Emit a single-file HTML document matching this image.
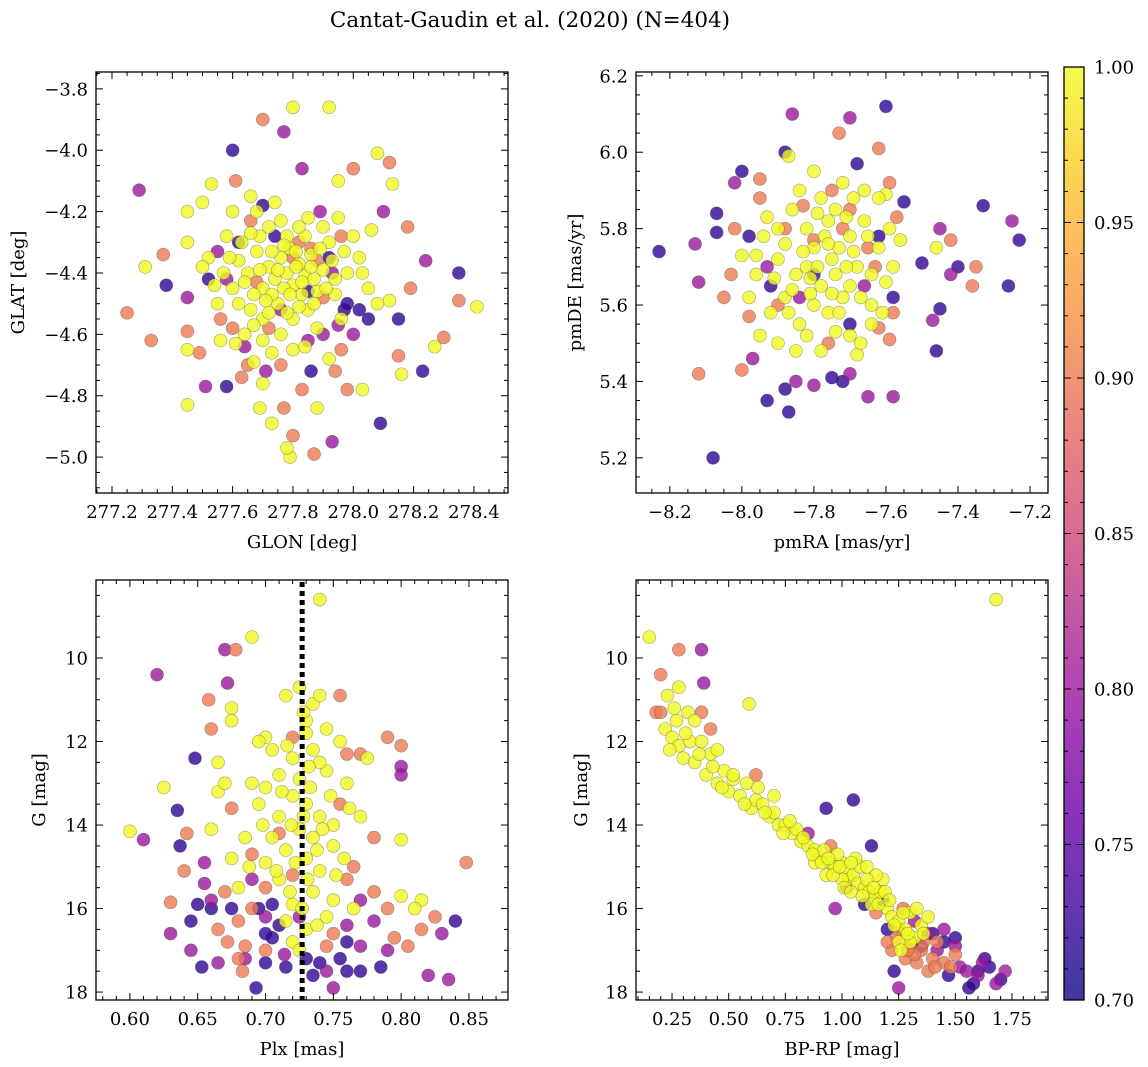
<!DOCTYPE html>
<html><head><meta charset="utf-8">
<style>
body{margin:0;background:#fff;}
svg{display:block;font-family:"DejaVu Serif","Liberation Serif",serif;}
</style></head>
<body>
<svg id="fig" width="1148" height="1067" viewBox="0 0 1148 1067" xmlns="http://www.w3.org/2000/svg">
<defs>
<linearGradient id="plasma" x1="0" y1="1" x2="0" y2="0">
<stop offset="0" stop-color="#0d0887"/><stop offset="0.1" stop-color="#41049d"/><stop offset="0.2" stop-color="#6a00a8"/><stop offset="0.3" stop-color="#8f0da4"/><stop offset="0.4" stop-color="#b12a90"/><stop offset="0.5" stop-color="#cc4778"/><stop offset="0.6" stop-color="#e16462"/><stop offset="0.7" stop-color="#f2844b"/><stop offset="0.8" stop-color="#fca636"/><stop offset="0.9" stop-color="#fcce25"/><stop offset="1" stop-color="#f0f921"/>
</linearGradient>
</defs>
<text x="530" y="27" font-size="21.5" text-anchor="middle">Cantat-Gaudin et al. (2020) (N=404)</text>
</svg>
<script>
const Y=1.0,S=0.9,P=0.8,D=0.72;
const glonGlat=[[277.29,-4.13,P],[277.25,-4.53,S],[277.33,-4.62,S],[277.31,-4.38,Y],[277.38,-4.44,D],[277.37,-4.34,S],[277.45,-4.20,Y],[277.45,-4.30,Y],[277.45,-4.48,P],[277.45,-4.59,S],[277.45,-4.65,Y],[277.45,-4.83,Y],[277.49,-4.66,S],[277.51,-4.77,P],[277.50,-4.17,Y],[277.53,-4.11,Y],[277.60,-4.00,D],[277.61,-4.10,S],[277.66,-4.15,Y],[277.70,-3.90,S],[277.77,-3.94,P],[277.80,-3.86,Y],[277.92,-3.86,Y],[278.08,-4.01,Y],[278.12,-4.04,S],[278.00,-4.06,S],[277.83,-4.06,P],[277.95,-4.10,Y],[278.35,-4.40,D],[278.41,-4.51,Y],[278.35,-4.49,S],[278.30,-4.61,S],[278.27,-4.64,Y],[278.23,-4.72,D],[278.24,-4.36,P],[278.19,-4.45,S],[278.15,-4.55,D],[278.12,-4.49,Y],[278.15,-4.67,S],[278.16,-4.73,Y],[278.13,-4.11,Y],[278.10,-4.20,P],[278.18,-4.25,S],[278.09,-4.89,D],[278.03,-4.78,Y],[277.98,-4.78,S],[277.93,-4.95,P],[277.87,-4.99,S],[277.79,-5.00,Y],[277.78,-4.97,Y],[277.80,-4.93,S],[277.73,-4.89,Y],[277.77,-4.84,S],[277.83,-4.78,S],[277.69,-4.84,Y],[277.63,-4.74,S],[277.58,-4.77,D],[277.56,-4.62,Y],[277.60,-4.58,S],[277.65,-4.70,S],[277.71,-4.72,P],[277.86,-4.72,D],[277.90,-4.60,P],[277.92,-4.68,Y],[277.96,-4.65,S],[277.88,-4.84,Y],[277.97,-4.52,D],[278.02,-4.52,D],
[277.62,-4.36,Y],[277.65,-4.40,Y],[277.68,-4.33,Y],[277.70,-4.45,Y],[277.72,-4.38,Y],[277.74,-4.42,Y],[277.76,-4.35,Y],[277.78,-4.40,Y],[277.80,-4.44,Y],[277.82,-4.37,Y],[277.84,-4.41,Y],[277.86,-4.34,Y],[277.88,-4.46,Y],[277.90,-4.39,Y],[277.75,-4.50,Y],[277.70,-4.55,Y],[277.66,-4.52,Y],[277.80,-4.55,Y],[277.85,-4.52,Y],[277.92,-4.30,Y],[277.78,-4.28,Y],[277.72,-4.25,Y],[277.68,-4.20,Y],[277.85,-4.22,Y],[277.90,-4.25,Y],[277.95,-4.22,Y],[277.60,-4.45,Y],[277.57,-4.40,Y],[277.55,-4.50,Y],[277.52,-4.35,Y],[277.58,-4.28,Y],[277.63,-4.30,Y],[277.74,-4.17,Y],[277.79,-4.32,Y],[277.83,-4.47,Y],[277.76,-4.60,Y],[277.70,-4.62,Y],[277.64,-4.60,Y],[277.88,-4.58,Y],[277.94,-4.47,Y],[277.98,-4.40,Y],[278.02,-4.35,Y],[278.05,-4.45,Y],[278.00,-4.28,Y],[277.96,-4.55,Y],[277.73,-4.47,Y],[277.81,-4.38,Y],[277.67,-4.47,Y],[277.77,-4.45,Y],[277.87,-4.42,Y],[277.80,-4.65,Y],
[277.64,-4.43,Y],[277.69,-4.39,Y],[277.71,-4.49,Y],[277.75,-4.39,Y],[277.79,-4.47,Y],[277.83,-4.43,Y],[277.86,-4.38,Y],[277.81,-4.33,Y],[277.77,-4.31,Y],[277.73,-4.33,Y],[277.69,-4.28,Y],[277.84,-4.28,Y],[277.89,-4.32,Y],[277.91,-4.45,Y],[277.87,-4.50,Y],[277.82,-4.51,Y],[277.78,-4.53,Y],[277.72,-4.53,Y],[277.67,-4.57,Y],[277.62,-4.50,Y],[277.59,-4.35,Y],[277.66,-4.27,Y],[277.76,-4.23,Y],[277.82,-4.25,Y],[277.93,-4.36,Y],[277.97,-4.33,Y],[277.61,-4.63,Y],[277.73,-4.66,Y],[277.84,-4.64,Y],[277.94,-4.42,Y],[277.54,-4.44,Y],[277.50,-4.38,Y],[278.03,-4.40,Y],[277.70,-4.76,Y],[277.67,-4.69,Y],[278.08,-4.50,Y],[278.06,-4.26,Y],[277.60,-4.20,Y],
[277.82,-4.30,S],[277.86,-4.32,S],[277.74,-4.28,D],[277.70,-4.18,D],[277.66,-4.23,S],[277.92,-4.35,D],[277.93,-4.40,P],[277.95,-4.57,P],[277.98,-4.50,D],[278.05,-4.55,D],[278.00,-4.60,P],[277.62,-4.30,D],[277.58,-4.42,P],[277.55,-4.33,P],[277.52,-4.42,D],[277.85,-4.62,P],[277.76,-4.52,P],[277.88,-4.36,S],[277.80,-4.35,S],[277.90,-4.48,S],[277.72,-4.58,S],[277.64,-4.64,P],[277.76,-4.70,S],[277.68,-4.43,S],[277.85,-4.46,D],[277.89,-4.20,P],[277.96,-4.28,S],[277.56,-4.55,S],[277.94,-4.72,S]];
const pmraPmde=[[-8.23,5.74,D],[-8.08,5.20,D],[-8.12,5.42,S],[-8.12,5.66,P],[-8.13,5.76,P],[-8.07,5.79,D],[-8.07,5.84,D],[-8.02,5.92,P],[-8.00,5.95,D],[-8.05,5.62,S],[-8.03,5.68,S],[-8.00,5.43,S],[-7.97,5.46,P],[-7.93,5.35,D],[-7.88,5.38,D],[-7.87,5.32,D],[-7.85,5.40,P],[-7.80,5.39,P],[-7.75,5.41,D],[-7.72,5.40,D],[-7.70,5.42,P],[-7.65,5.36,P],[-7.58,5.36,P],[-7.59,5.51,S],[-7.58,5.62,D],[-7.62,5.54,S],[-7.46,5.48,D],[-7.47,5.56,P],[-7.45,5.59,D],[-7.42,5.68,P],[-7.40,5.70,D],[-7.36,5.65,S],[-7.35,5.70,S],[-7.33,5.86,D],[-7.26,5.65,D],[-7.25,5.82,P],[-7.23,5.77,D],[-7.42,5.77,S],[-7.45,5.80,P],[-7.46,5.75,Y],[-7.50,5.71,D],[-7.55,5.87,D],[-7.59,5.92,S],[-7.62,6.01,S],[-7.60,6.12,D],[-7.70,6.09,P],[-7.73,6.05,S],[-7.86,6.10,P],[-7.88,6.00,D],[-7.87,5.99,Y],[-7.68,5.97,D],[-7.95,5.93,S],[-7.57,5.83,S],[-7.60,5.89,Y],
[-7.75,5.72,Y],[-7.80,5.75,Y],[-7.70,5.78,Y],[-7.85,5.68,Y],[-7.78,5.65,Y],[-7.72,5.62,Y],[-7.82,5.80,Y],[-7.68,5.70,Y],[-7.90,5.72,Y],[-7.74,5.85,Y],[-7.78,5.88,Y],[-7.66,5.82,Y],[-7.88,5.62,Y],[-7.92,5.58,Y],[-7.84,5.55,Y],[-7.76,5.58,Y],[-7.70,5.52,Y],[-7.64,5.60,Y],[-7.60,5.66,Y],[-7.62,5.75,Y],[-7.66,5.90,Y],[-7.72,5.92,Y],[-7.80,5.95,Y],[-7.86,5.85,Y],[-7.94,5.78,Y],[-7.96,5.68,Y],[-7.98,5.62,Y],[-7.90,5.50,Y],[-7.85,5.48,Y],[-7.78,5.48,Y],[-7.68,5.47,Y],[-7.93,5.83,Y],[-7.74,5.68,Y],[-7.82,5.70,Y],[-7.70,5.65,Y],[-7.88,5.76,Y],[-7.64,5.55,Y],[-7.58,5.70,Y],[-7.80,5.60,Y],[-7.95,5.52,Y],[-8.00,5.73,Y],[-7.62,5.88,Y],[-7.56,5.77,Y],[-7.67,5.50,Y],
[-7.77,5.78,Y],[-7.73,5.75,Y],[-7.79,5.70,Y],[-7.83,5.74,Y],[-7.71,5.70,Y],[-7.76,5.82,Y],[-7.69,5.74,Y],[-7.86,5.64,Y],[-7.81,5.63,Y],[-7.75,5.63,Y],[-7.73,5.58,Y],[-7.87,5.58,Y],[-7.91,5.67,Y],[-7.67,5.62,Y],[-7.64,5.68,Y],[-7.65,5.78,Y],[-7.71,5.83,Y],[-7.79,5.84,Y],[-7.84,5.90,Y],[-7.69,5.88,Y],[-7.90,5.80,Y],[-7.82,5.52,Y],[-7.74,5.53,Y],[-7.61,5.58,Y],[-7.59,5.80,Y],[-7.96,5.73,Y],[-7.76,5.76,Y],[-7.81,5.67,Y],
[-7.80,5.77,S],[-7.75,5.90,S],[-7.65,5.75,S],[-7.95,5.88,S],[-7.98,5.57,S],[-7.88,5.80,S],[-7.70,5.85,S],[-7.93,5.70,P],[-7.66,5.65,P],[-7.84,5.62,P],[-7.92,5.65,D],[-7.80,5.68,D],[-7.62,5.78,D],[-7.70,5.55,D],[-7.98,5.78,D],[-7.83,5.86,S],[-7.72,5.80,S],[-7.63,5.70,S],[-7.90,5.60,S],[-7.76,5.50,S],[-8.02,5.80,S],[-7.58,5.58,S]];
const plxG=[[0.60,14.15,Y],[0.61,14.35,P],[0.62,10.4,P],[0.625,13.1,Y],[0.63,15.85,S],[0.63,16.6,P],[0.635,13.65,D],[0.637,14.5,D],[0.64,15.1,S],[0.642,14.2,S],[0.645,16.3,D],[0.645,17.0,P],[0.648,12.4,D],[0.653,17.4,D],[0.655,15.4,P],[0.658,11.0,S],[0.66,11.7,S],[0.66,16.0,D],[0.665,12.5,Y],[0.665,13.2,Y],[0.67,9.8,P],[0.672,10.6,P],[0.678,9.8,S],[0.675,11.2,Y],[0.675,11.5,Y],[0.69,9.5,Y],[0.672,16.8,S],[0.68,17.2,S],[0.683,17.5,S],[0.685,17.2,P],[0.693,17.9,D],[0.70,17.3,D],[0.70,16.6,D],[0.695,16.0,D],[0.705,16.7,D],[0.71,16.4,D],[0.714,17.1,P],[0.705,15.9,D],[0.72,11.9,S],[0.715,10.9,Y],[0.725,10.7,Y],[0.74,8.6,Y],[0.735,11.1,Y],[0.755,10.9,S],[0.76,12.3,S],[0.77,12.3,S],[0.775,12.4,Y],[0.79,11.9,S],[0.80,12.1,S],[0.80,12.6,P],[0.80,12.8,P],[0.80,14.35,Y],[0.80,15.7,Y],[0.815,15.8,Y],[0.81,16.0,Y],[0.82,17.6,P],[0.835,17.7,P],[0.84,16.3,D],[0.848,14.9,S],[0.83,16.6,P],[0.825,16.2,S],[0.79,17.0,P],[0.785,17.4,D],[0.77,17.5,D],[0.76,17.5,D],[0.75,17.9,P],[0.74,17.3,D],[0.735,17.6,D],[0.78,16.3,P],[0.795,16.7,S],[0.805,16.9,S],[0.815,16.5,S],[0.77,15.8,P],[0.76,15.3,S],[0.765,15.0,S],[0.78,14.3,S],[0.755,13.5,S],[0.77,13.8,Y],[0.75,14.0,Y],
[0.71,12.8,Y],[0.72,13.3,Y],[0.73,13.5,Y],[0.735,12.2,Y],[0.74,13.8,Y],[0.745,12.7,Y],[0.725,14.1,Y],[0.715,14.6,Y],[0.73,14.8,Y],[0.74,15.1,Y],[0.735,15.6,Y],[0.72,15.9,Y],[0.71,15.3,Y],[0.745,16.2,Y],[0.73,16.5,Y],[0.72,16.8,Y],[0.70,14.9,Y],[0.695,13.5,Y],[0.705,12.2,Y],[0.75,14.5,Y],[0.76,13.0,Y],[0.755,12.0,Y],[0.70,11.9,Y],[0.69,13.0,Y],[0.685,14.3,Y],[0.68,15.5,Y],[0.675,14.8,Y],[0.73,11.5,Y],[0.74,12.5,Y],[0.72,12.4,Y],[0.71,13.8,Y],[0.735,14.3,Y],[0.75,15.8,Y],[0.765,16.0,Y],[0.715,16.3,Y],[0.725,17.0,Y],[0.73,11.8,Y],[0.74,10.9,Y],[0.66,14.1,Y],[0.67,13.0,Y],[0.695,12.0,Y],
[0.725,12.9,Y],[0.733,13.1,Y],[0.728,13.8,Y],[0.738,14.6,Y],[0.722,14.9,Y],[0.731,15.3,Y],[0.727,16.0,Y],[0.738,16.4,Y],[0.718,15.6,Y],[0.742,14.1,Y],[0.712,13.2,Y],[0.705,14.3,Y],[0.748,13.3,Y],[0.752,15.2,Y],[0.716,12.1,Y],[0.732,12.6,Y],[0.745,11.7,Y],[0.708,15.1,Y],[0.698,14.0,Y],[0.688,15.0,Y],[0.758,14.8,Y],[0.762,13.6,Y],[0.728,11.3,Y],[0.719,14.0,Y],[0.70,13.1,Y],
[0.69,14.7,S],[0.70,15.5,S],[0.72,15.2,S],[0.68,16.3,S],[0.665,16.5,S],[0.71,14.2,S],[0.675,13.6,S],[0.69,16.0,S],[0.75,16.6,S],[0.745,16.9,S],[0.655,14.9,P],[0.66,15.8,P],[0.70,16.2,P],[0.725,16.2,P],[0.76,16.4,P],[0.77,16.9,P],[0.69,15.3,P],[0.65,15.9,D],[0.675,16.0,D],[0.715,17.4,D],[0.73,17.2,D],[0.755,17.2,D],[0.76,16.8,D],[0.685,16.9,S],[0.67,15.6,S],[0.78,15.6,S],[0.79,16.0,S],[0.665,17.3,P],[0.70,17.0,S],[0.745,17.5,P]];
const bprpG=[[0.15,9.5,Y],[0.23,10.9,Y],[0.22,11.7,Y],[0.25,11.9,Y],[0.27,11.5,Y],[0.28,12.1,Y],[0.30,12.4,Y],[0.33,12.0,Y],[0.35,12.5,Y],[0.38,12.0,Y],[0.40,12.8,Y],[0.42,12.3,Y],[0.45,13.0,Y],[0.48,12.7,Y],[0.50,13.2,Y],[0.52,12.9,Y],[0.55,13.3,Y],[0.58,13.0,Y],[0.60,13.6,Y],[0.62,13.4,Y],[0.65,13.5,Y],[0.68,13.8,Y],[0.70,13.7,Y],[0.72,14.0,Y],[0.75,14.0,Y],[0.78,14.2,Y],[0.80,14.1,Y],[0.82,14.4,Y],[0.85,14.5,Y],[0.88,14.6,Y],[0.90,14.8,Y],[0.92,14.6,Y],[0.95,14.9,Y],[0.97,15.0,Y],[1.00,14.9,Y],[1.02,15.1,Y],[1.03,15.3,Y],[1.05,15.2,Y],[1.07,15.4,Y],[1.08,15.0,Y],[1.10,15.5,Y],[1.12,15.6,Y],[1.15,15.7,Y],[1.17,15.6,Y],[1.20,16.0,Y],[1.22,16.2,Y],[1.25,16.3,Y],[1.28,16.5,Y],[1.30,16.1,Y],[1.32,16.7,Y],[1.35,16.4,Y],[1.38,16.2,Y],[1.30,16.8,Y],[1.25,16.8,Y],[1.68,8.6,Y],[0.59,11.1,Y],[0.32,11.3,Y],[0.35,11.5,Y],[0.52,12.8,Y],[0.63,13.1,Y],[0.77,13.9,Y],[0.98,14.7,Y],[1.06,14.8,Y],[1.13,15.9,Y],[1.18,15.3,Y],[0.93,15.2,Y],[1.0,15.3,Y],[0.88,14.9,Y],[0.28,10.7,Y],[0.24,12.2,Y],[0.45,12.2,Y],[0.70,13.3,Y],[1.15,15.2,Y],
[0.26,11.2,Y],[0.31,11.8,Y],[0.37,12.3,Y],[0.43,12.6,Y],[0.47,13.1,Y],[0.57,13.5,Y],[0.66,13.7,Y],[0.74,14.2,Y],[0.83,14.3,Y],[0.87,14.7,Y],[0.91,14.9,Y],[0.96,15.2,Y],[1.01,15.5,Y],[1.04,15.6,Y],[1.09,15.7,Y],[1.11,15.3,Y],[1.14,15.5,Y],[1.16,15.9,Y],[1.19,15.6,Y],[1.21,15.8,Y],[1.23,16.4,Y],[1.27,16.1,Y],[1.29,16.6,Y],[1.33,16.0,Y],[1.36,16.6,Y],[1.26,17.0,Y],[0.99,15.0,Y],[1.04,14.9,Y],[0.94,14.8,Y],[1.11,15.0,Y],
[0.28,9.8,S],[0.2,10.4,S],[0.18,11.3,S],[0.2,11.3,S],[0.38,11.3,S],[0.42,11.7,S],[1.25,16.5,S],[1.30,16.9,S],[1.35,17.0,S],[1.28,17.2,S],[1.38,17.5,S],[1.40,17.2,S],[1.42,16.8,S],[1.45,17.3,S],[1.33,17.3,S],[1.22,17.0,S],[1.27,16.0,S],[0.95,14.5,S],[1.15,16.1,S],[1.48,17.4,S],[0.62,12.8,S],[1.50,17.1,S],[1.32,17.1,S],[1.36,16.8,S],[1.24,16.7,S],[1.41,17.4,S],[1.29,17.0,S],[1.20,16.8,S],
[0.38,9.8,P],[0.39,10.6,P],[0.97,16.0,P],[1.25,17.9,P],[1.42,17.0,P],[1.52,17.4,P],[1.55,17.5,P],[1.62,17.3,P],[1.72,17.5,P],[1.68,17.8,P],[1.45,16.5,P],[1.50,16.9,P],[1.60,17.6,P],[1.38,16.6,P],[1.02,15.5,P],[0.85,14.2,P],[1.32,16.3,P],
[1.05,13.4,D],[0.93,13.6,D],[1.13,14.5,D],[1.23,17.5,D],[1.58,17.8,D],[1.60,17.5,D],[1.63,17.2,D],[1.65,17.4,D],[1.70,17.7,D],[1.56,17.9,D],[1.40,16.6,D],[1.45,16.8,D],[1.50,16.7,D],[1.20,16.5,D],[1.35,16.9,D],[1.47,17.6,D],[1.18,15.8,D],[1.10,15.9,D]];
const plxLine=0.727;
const cbTicks=[0.70,0.75,0.80,0.85,0.90,0.95,1.00];

const NS='http://www.w3.org/2000/svg';
const svg=document.getElementById('fig');
function mk(tag,attrs,parent){const e=document.createElementNS(NS,tag);for(const k in attrs)e.setAttribute(k,attrs[k]);(parent||svg).appendChild(e);return e;}
const stops=[[13,8,135],[65,4,157],[106,0,168],[143,13,164],[177,42,144],[204,71,120],[225,100,98],[242,132,75],[252,166,54],[252,206,37],[240,249,33]];
function plasma(v){let t=Math.max(0,Math.min(1,(v-0.7)/0.3))*10;let i=Math.min(9,Math.floor(t)),f=t-i;const a=stops[i],b=stops[i+1];return 'rgb('+a.map((c,k)=>Math.round(c+(b[k]-c)*f)).join(',')+')';}
function fmt(v,d){return (v<0?'\u2212':'')+Math.abs(v).toFixed(d);}
const FS=18;
function panel(name,box,xr,yr,xt,yt,xm,ym,xd,yd,xl,yl,data,noMinusY,ylOff){
  const g=mk('g',{});
  
  
  const sx=v=>box.x0+(v-xr[0])/(xr[1]-xr[0])*(box.x1-box.x0);
  const sy=v=>box.y1-(v-yr[0])/(yr[1]-yr[0])*(box.y1-box.y0);
  const pts=data.slice().sort((a,b)=>a[2]-b[2]);
  const pg=mk('g',{},g);
  
  
  pts.forEach(p=>{const c=mk('circle',{cx:sx(p[0]),cy:sy(p[1]),r:6.5,fill:plasma(p[2]),'fill-opacity':0.8,stroke:'rgba(60,60,60,0.45)','stroke-width':0.6},pg);
    
    });
  const tg=mk('g',{stroke:'#000','stroke-width':1},g);
  const eps=1e-9;
  for(let v=Math.ceil(xr[0]/xm-eps)*xm;v<=xr[1]+eps;v+=xm){const X=sx(v);const maj=Math.abs(v/xt-Math.round(v/xt))<1e-6;const L=maj?7:4;
    mk('line',{x1:X,x2:X,y1:box.y1,y2:box.y1-L},tg);mk('line',{x1:X,x2:X,y1:box.y0,y2:box.y0+L},tg);
    if(maj){const t=mk('text',{x:X,y:box.y1+25,'font-size':FS,'text-anchor':'middle',stroke:'none'},g);t.textContent=fmt(Math.round(v/xt)*xt,xd);
      
      }}
  for(let v=Math.ceil(yr[0]/ym-eps)*ym;v<=yr[1]+eps;v+=ym){const Yp=sy(v);const maj=Math.abs(v/yt-Math.round(v/yt))<1e-6;const L=maj?7:4;
    mk('line',{y1:Yp,y2:Yp,x1:box.x0,x2:box.x0+L},tg);mk('line',{y1:Yp,y2:Yp,x1:box.x1,x2:box.x1-L},tg);
    if(maj){const t=mk('text',{x:box.x0-8,y:Yp+6.5,'font-size':FS,'text-anchor':'end'},g);let s=fmt(Math.round(v/yt)*yt,yd);if(noMinusY)s=s.replace('\u2212','');t.textContent=s;
      
      }}
  const fr=mk('rect',{x:box.x0,y:box.y0,width:box.x1-box.x0,height:box.y1-box.y0,fill:'none',stroke:'#000','stroke-width':1.3},g);
  
  
  const xa=mk('text',{x:(box.x0+box.x1)/2,y:box.y1+55,'font-size':FS,'text-anchor':'middle'},g);xa.textContent=xl;
  
  
  const cy=(box.y0+box.y1)/2;
  const ya=mk('text',{x:0,y:0,'font-size':FS,'text-anchor':'middle',transform:'translate('+(box.x0-ylOff)+','+cy+') rotate(-90)'},g);ya.textContent=yl;
  
  
  return {sx,sy,g};
}
panel('glon-glat-panel',{x0:96,x1:508,y0:72,y1:493},[277.147,278.513],[-5.117,-3.745],0.2,0.2,0.05,0.05,1,1,'GLON [deg]','GLAT [deg]',glonGlat,false,72);
panel('pm-panel',{x0:636,x1:1048,y0:72,y1:493},[-8.294,-7.15],[5.108,6.210],0.2,0.2,0.05,0.05,1,1,'pmRA [mas/yr]','pmDE [mas/yr]',pmraPmde,false,55);
const p3=panel('plx-g-panel',{x0:96,x1:508,y0:580,y1:1000},[0.575,0.8788],[-18.19,-8.132],0.05,2,0.01,0.5,2,0,'Plx [mas]','G [mag]',plxG.map(p=>[p[0],-p[1],p[2]]),true,51);
panel('cmd-panel',{x0:636,x1:1048,y0:580,y1:1000},[0.091,1.909],[-18.19,-8.132],0.25,2,0.05,0.5,2,0,'BP-RP [mag]','G [mag]',bprpG.map(p=>[p[0],-p[1],p[2]]),true,49);
const vl=mk('line',{x1:p3.sx(plxLine),x2:p3.sx(plxLine),y1:582,y2:1000,stroke:'#000','stroke-width':5,'stroke-dasharray':'5,4'});


const cb=mk('g',{});


mk('rect',{x:1064,y:67,width:20,height:933,fill:'url(#plasma)','fill-opacity':0.8},cb);
mk('rect',{x:1064,y:67,width:20,height:933,fill:'none',stroke:'#000','stroke-width':1.3},cb);
const cy=v=>1000-(v-0.7)/0.3*933;
for(let i=0;i<=30;i++){const v=0.7+i*0.01;const Yp=cy(v);const maj=i%5===0;
  mk('line',{x1:1084,x2:1084-(maj?7:4),y1:Yp,y2:Yp,stroke:'#000'},cb);mk('line',{x1:1064,x2:1064+(maj?7:4),y1:Yp,y2:Yp,stroke:'#000'},cb);}
cbTicks.forEach(v=>{const t=mk('text',{x:1094,y:cy(v)+6.5,'font-size':FS},cb);t.textContent=v.toFixed(2);
  
  });
</script>
</body></html>
